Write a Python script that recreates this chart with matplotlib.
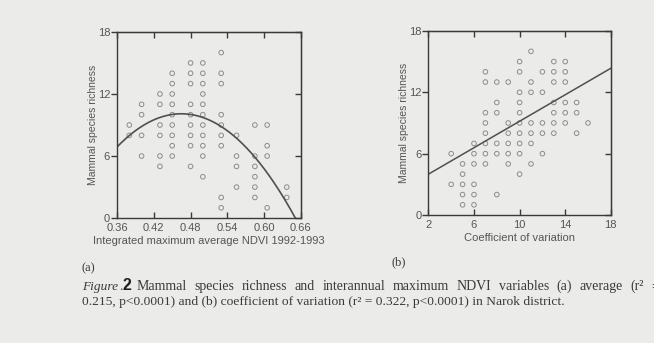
import matplotlib
matplotlib.use('Agg')
import matplotlib.pyplot as plt
import numpy as np

# (a) integrated maximum average NDVI vs species richness
ndvi_x = [0.38, 0.38,
          0.40, 0.40, 0.40, 0.40,
          0.43, 0.43, 0.43, 0.43, 0.43, 0.43,
          0.45, 0.45, 0.45, 0.45, 0.45, 0.45, 0.45, 0.45, 0.45,
          0.48, 0.48, 0.48, 0.48, 0.48, 0.48, 0.48, 0.48, 0.48,
          0.50, 0.50, 0.50, 0.50, 0.50, 0.50, 0.50, 0.50, 0.50, 0.50, 0.50,
          0.53, 0.53, 0.53, 0.53, 0.53, 0.53, 0.53, 0.53, 0.53,
          0.555, 0.555, 0.555, 0.555,
          0.585, 0.585, 0.585, 0.585, 0.585, 0.585,
          0.605, 0.605, 0.605, 0.605,
          0.637, 0.637]
ndvi_y = [9, 8,
          11, 10, 8, 6,
          12, 11, 9, 8, 6, 5,
          14, 13, 12, 11, 10, 9, 8, 7, 6,
          15, 14, 13, 11, 10, 9, 8, 7, 5,
          15, 14, 13, 12, 11, 10, 9, 8, 7, 6, 4,
          16, 14, 13, 10, 9, 8, 7, 2, 1,
          8, 6, 5, 3,
          9, 6, 5, 4, 3, 2,
          9, 7, 6, 1,
          3, 2]
ndvi_fit = [-291.0, 270.6, -52.82]   # quadratic fit, r2 = 0.215

# (b) coefficient of variation vs species richness
cv_x = [4, 4,
        5, 5, 5, 5, 5,
        6, 6, 6, 6, 6, 6,
        7, 7, 7, 7, 7, 7, 7, 7,
        8, 8, 8, 8, 8, 8,
        9, 9, 9, 9, 9, 9,
        10, 10, 10, 10, 10, 10, 10, 10, 10, 10,
        11, 11, 11, 11, 11, 11, 11,
        12, 12, 12, 12, 12,
        13, 13, 13, 13, 13, 13, 13,
        14, 14, 14, 14, 14, 14,
        15, 15, 15,
        16]
cv_y = [6, 3,
        5, 4, 3, 2, 1,
        7, 6, 5, 3, 2, 1,
        14, 13, 10, 9, 8, 7, 6, 5,
        13, 11, 10, 7, 6, 2,
        13, 9, 8, 7, 6, 5,
        15, 14, 12, 11, 10, 9, 8, 7, 6, 4,
        16, 13, 12, 9, 8, 7, 5,
        14, 12, 9, 8, 6,
        15, 14, 13, 11, 10, 9, 8,
        15, 14, 13, 11, 10, 9,
        11, 10, 8,
        9]
cv_fit = [0.647, 2.7]   # linear fit, r2 = 0.322

ndvi_ticks = [0.36, 0.42, 0.48, 0.54, 0.60, 0.66]
cv_ticks = [2, 6, 10, 14, 18]
rich_ticks = [0, 6, 12, 18]

caption1 = 'Mammal species richness and interannual maximum NDVI variables (a) average (r² ='
caption2 = '0.215, p<0.0001) and (b) coefficient of variation (r² = 0.322, p<0.0001) in Narok district.'

paper = '#ebebea'
ink = '#3a3a3a'
grey = '#8c8c8c'
W, H = 654, 343

plt.rcParams['font.family'] = ['Liberation Sans', 'DejaVu Sans']
serif = ['Liberation Serif', 'DejaVu Serif']

fig = plt.figure(figsize=(W / 100, H / 100), dpi=100, facecolor=paper)


def style_axes(ax, xticks, xlabels):
    ax.set_facecolor(paper)
    for s in ax.spines.values():
        s.set_color(ink)
        s.set_linewidth(1.0)
    ax.set_yticks(rich_ticks)
    ax.set_ylim(0, 18)
    ax.set_xticks(xticks)
    ax.set_xticklabels(xlabels)
    ax.tick_params(axis='y', direction='out', length=4, width=1, color=ink,
                   labelsize=8, labelcolor='#555555', pad=1)
    ax.tick_params(axis='x', direction='in', length=4, width=1, color=ink,
                   labelsize=8, labelcolor='#555555', pad=3.5)
    top = ax.secondary_xaxis('top')
    top.set_xticks(xticks)
    top.tick_params(direction='in', length=4, width=1, color=ink, labeltop=False)
    right = ax.secondary_yaxis('right')
    right.set_yticks(rich_ticks)
    right.tick_params(direction='in', length=4, width=1, color=ink, labelright=False)
    ax.set_ylabel('Mammal species richness', fontsize=7.5, color='#555555', labelpad=0)


# panel (a)
ax1 = fig.add_axes([0.179, 0.364, 0.281, 0.543])
ax1.scatter(ndvi_x, ndvi_y, s=11, facecolors='none', edgecolors=grey, linewidths=0.7)
poly = np.poly1d(ndvi_fit)
root = max(r.real for r in poly.roots)
xs = np.linspace(0.36, root, 200)
ax1.plot(xs, poly(xs), color='#505050', lw=1.2)
ax1.set_xlim(0.36, 0.66)
style_axes(ax1, ndvi_ticks, ['%.2f' % t for t in ndvi_ticks])
ax1.set_xlabel('Integrated maximum average NDVI 1992-1993', fontsize=8,
               color='#555555', labelpad=2.5)

# panel (b)
ax2 = fig.add_axes([0.655, 0.373, 0.279, 0.537])
ax2.scatter(cv_x, cv_y, s=11, facecolors='none', edgecolors=grey, linewidths=0.7)
xl = np.array([2, 18])
ax2.plot(xl, np.polyval(cv_fit, xl), color='#505050', lw=1.1)
ax2.set_xlim(2, 18)
style_axes(ax2, cv_ticks, [str(t) for t in cv_ticks])
ax2.set_xlabel('Coefficient of variation', fontsize=8, color='#555555', labelpad=2.5)

# panel letters and caption
fig.text(82 / W, 1 - 268 / H, '(a)', fontsize=9, family=serif, color=ink, va='center')
fig.text(392 / W, 1 - 262 / H, '(b)', fontsize=9, family=serif, color=ink, va='center')

rend = fig.canvas.get_renderer()


def put(x, y, s, color=ink, **kw):
    t = fig.text(x / W, 1 - y / H, s, va='baseline', color=color, **kw)
    return t, t.get_window_extent(renderer=rend).width

base1, base2 = 290, 304.5
t, w = put(82, base1, 'Figure', fontsize=9.6, family=serif, style='italic')
t, w2 = put(82 + w + 1, base1, '.', fontsize=9.6, family=serif)
put(82 + w + 1 + w2, base1, '2', color='#1e1e1e', fontsize=11.5,
    family=['Liberation Sans'], weight='bold')

# first line is justified out past the page edge
words = caption1.split(' ')
start, stop = 136.5, 659
placed = []
for wd in words:
    placed.append(put(0, base1, wd, fontsize=10, family=serif))
gap = (stop - start - sum(p[1] for p in placed)) / (len(placed) - 1)
x = start
for t, w in placed:
    t.set_x(x / W)
    x += w + gap

put(82, base2, caption2, fontsize=9.7, family=serif)

fig.savefig('out.png', dpi=100, facecolor=paper)
